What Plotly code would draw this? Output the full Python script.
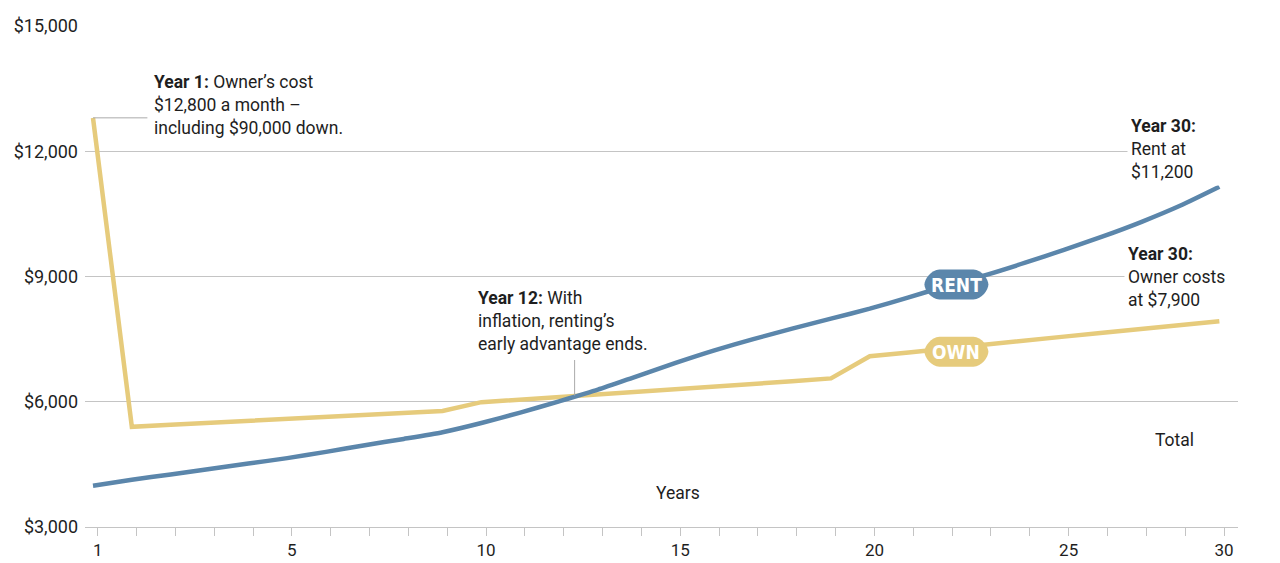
import plotly.graph_objects as go

years = list(range(1, 31))
rent = [3990, 4130, 4260, 4390, 4520, 4650, 4800, 4960, 5110, 5270,
        5490, 5740, 6010, 6290, 6610, 6930, 7230, 7500, 7750, 7990,
        8230, 8500, 8780, 9040, 9330, 9640, 9960, 10310, 10700, 11150]
own = [12800, 5400, 5450, 5500, 5540, 5590, 5640, 5690, 5730, 5780,
       5990, 6050, 6110, 6180, 6240, 6300, 6370, 6430, 6490, 6560,
       7090, 7180, 7280, 7370, 7460, 7560, 7650, 7740, 7840, 7930]
tick_labels = ["1", "5", "10", "15", "20", "25", "30"]
tick_years = [1, 6, 11, 16, 21, 26, 30]
y_ticks = [3000, 6000, 9000, 12000, 15000]
y_labels = ["$3,000", "$6,000", "$9,000", "$12,000", "$15,000"]

BLUE = "#5b86ab"
GOLD = "#e6cb7c"
GRID = "#c4c4c4"
TXT = "#1e1e1e"
FONT = "Roboto, Inter, Arial, sans-serif"
COND = "DejaVu Sans Condensed, Liberation Sans Narrow, Arial Narrow, sans-serif"
FS = 17.5

off = 0.12  # tick marks sit slightly right of the data points

fig = go.Figure()
fig.add_trace(go.Scatter(x=years, y=own, mode="lines",
                         line=dict(color=GOLD, width=4.5), hoverinfo="skip"))
fig.add_trace(go.Scatter(x=years, y=rent, mode="lines",
                         line=dict(color=BLUE, width=4.5, shape="spline", smoothing=0.6),
                         hoverinfo="skip"))

# leader lines
fig.add_shape(type="line", x0=1.0, x1=2.4, y0=own[0], y1=own[0],
              line=dict(color="#aaaaaa", width=1))
fig.add_shape(type="line", x0=13.4, x1=13.4, y0=6150, y1=7000,
              line=dict(color="#aaaaaa", width=1))

def pill(xc, yc, color):
    k = 8.3
    path = (f"M -17,-15 L 17,-15 C {17+k},-15 32,{-15+k+1.7} 32,0 "
            f"C 32,{15-k-1.7} {17+k},15 17,15 L -17,15 "
            f"C {-17-k},15 -32,{15-k-1.7} -32,0 C -32,{-15+k+1.7} {-17-k},-15 -17,-15 Z")
    fig.add_shape(type="path", path=path, xsizemode="pixel", ysizemode="pixel",
                  xanchor=xc, yanchor=yc, xref="x", yref="y",
                  fillcolor=color, line=dict(width=0), layer="above")

pill(23.23, 8808, BLUE)
pill(23.23, 7200, GOLD)

ann = []
ann.append(dict(x=23.23, y=8808, text="<b>RENT</b>", showarrow=False,
                font=dict(family=COND, size=19, color="white")))
ann.append(dict(x=23.23, y=7200, text="<b>OWN</b>", showarrow=False,
                font=dict(family=COND, size=19, color="white")))
ann.append(dict(x=2.53, y=13104, xanchor="left", yanchor="middle", align="left",
                text="<b>Year 1:</b> Owner’s cost<br>$12,800 a month –<br>including $90,000 down.",
                showarrow=False, font=dict(family=FONT, size=FS, color=TXT)))
ann.append(dict(x=10.85, y=7944, xanchor="left", yanchor="middle", align="left",
                text="<b>Year 12:</b> With<br>inflation, renting’s<br>early advantage ends.",
                showarrow=False, font=dict(family=FONT, size=FS, color=TXT)))
ann.append(dict(x=27.62, y=12048, xanchor="left", yanchor="middle", align="left",
                text="<b>Year 30:</b><br>Rent at<br>$11,200", bgcolor="white", borderpad=3,
                width=108, showarrow=False, font=dict(family=FONT, size=FS, color=TXT)))
ann.append(dict(x=27.55, y=9000, xanchor="left", yanchor="middle", align="left",
                text="<b>Year 30:</b><br>Owner costs<br>at $7,900",
                bgcolor="white", borderpad=3,
                width=108, showarrow=False, font=dict(family=FONT, size=FS, color=TXT)))
ann.append(dict(x=28.85, y=5088, text="Total", showarrow=False,
                font=dict(family=FONT, size=FS, color=TXT)))
ann.append(dict(x=16.05, y=3816, text="Years", showarrow=False,
                font=dict(family=FONT, size=FS, color=TXT)))

# page body has an 8px margin, so the figure is 8px smaller and offset
fig.update_layout(
    width=1272, height=555,
    margin=dict(l=77, r=42, t=18, b=36, autoexpand=False),
    paper_bgcolor="white", plot_bgcolor="white",
    showlegend=False,
    annotations=ann,
    font=dict(family=FONT, size=FS, color=TXT),
    xaxis=dict(range=[0.794, 30.48], showgrid=False, zeroline=False, automargin=False,
               showline=True, linecolor=GRID, linewidth=1,
               tickmode="array", tickvals=[t + off for t in tick_years], ticktext=tick_labels,
               ticks="outside", ticklen=8, tickcolor=GRID, tickwidth=1,
               ticklabelstandoff=0,
               minor=dict(tickmode="array", tickvals=[y + off for y in years],
                          ticks="outside", ticklen=8, tickcolor=GRID, tickwidth=1),
               tickfont=dict(family=FONT, size=17, color=TXT)),
    yaxis=dict(range=[3000, 15000], tickmode="array", tickvals=y_ticks, ticktext=y_labels,
               showgrid=True, gridcolor=GRID, automargin=False,
               gridwidth=1, zeroline=False, showline=False, ticks="",
               ticklabelstandoff=6,
               tickfont=dict(family=FONT, size=18, color=TXT)),
)

fig.write_html("out.html")
